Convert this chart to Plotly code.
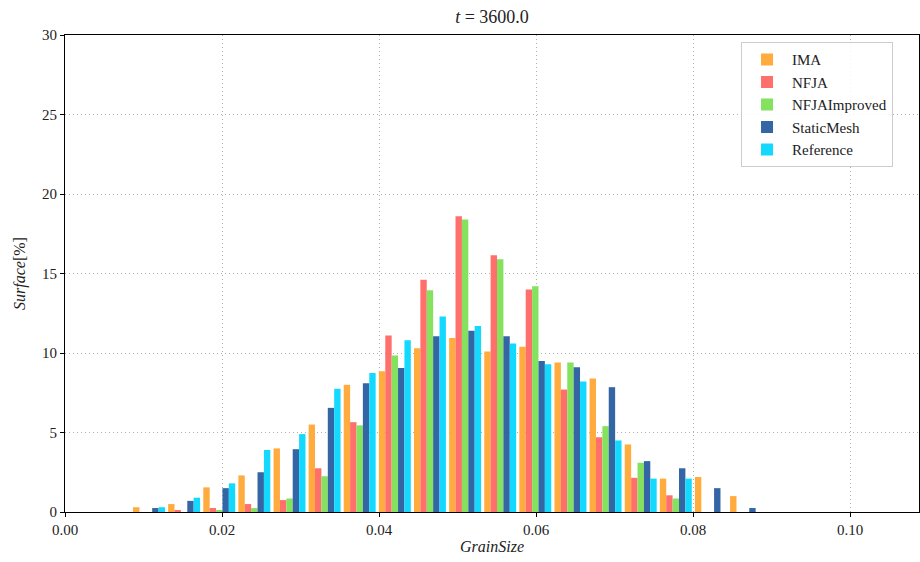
import plotly.graph_objects as go

# Bin centres (GrainSize) and surface percentages per method
bin_start = 0.0107
bin_step = 0.004474
n_bins = 18
grain_size = [round(bin_start + i * bin_step, 5) for i in range(n_bins)]

ima = [0.3, 0.5, 1.55, 2.3, 4.0, 5.5, 8.0, 8.85, 10.3, 10.95, 10.1, 10.4, 9.4, 8.4, 4.25, 2.1, 2.2, 1.0]
nfja = [0, 0.1, 0.25, 0.5, 0.75, 2.75, 5.65, 11.1, 14.6, 18.6, 16.15, 14.0, 7.7, 4.7, 2.15, 1.05, 0, 0]
nfja_improved = [0, 0, 0.1, 0.25, 0.85, 2.25, 5.45, 9.85, 13.95, 18.4, 15.9, 14.2, 9.4, 5.4, 3.1, 0.85, 0, 0]
static_mesh = [0.25, 0.7, 1.5, 2.5, 3.95, 6.55, 8.1, 9.05, 11.05, 11.4, 11.05, 9.5, 9.1, 7.85, 3.2, 2.75, 1.5, 0.25]
reference = [0.3, 0.9, 1.8, 3.9, 4.9, 7.75, 8.75, 10.8, 12.3, 11.7, 10.6, 9.3, 8.2, 4.5, 2.1, 2.1, 0, 0]

series_names = ["IMA", "NFJA", "NFJAImproved", "StaticMesh", "Reference"]
series_values = [ima, nfja, nfja_improved, static_mesh, reference]
colors = ["#FFAB3D", "#FF6F6B", "#84E25E", "#3465A4", "#14D9FF"]

x_ticks = [0.0, 0.02, 0.04, 0.06, 0.08, 0.10]
y_ticks = [0, 5, 10, 15, 20, 25, 30]

fig = go.Figure()
for name, vals, col in zip(series_names, series_values, colors):
    fig.add_trace(go.Bar(x=grain_size, y=vals, name=name, marker=dict(color=col, line=dict(width=0))))

font_family = "Liberation Serif, DejaVu Serif, serif"
axis_common = dict(
    showline=True, linecolor="black", linewidth=1.2, mirror=True,
    ticks="outside", ticklen=4, tickcolor="black",
    showgrid=True, gridcolor="#b0b0b0", griddash="1px,3px", gridwidth=1.2,
    zeroline=False, automargin=False,
    tickfont=dict(size=15, color="#222", family=font_family),
)

fig.update_layout(
    width=920, height=562,
    margin=dict(l=65, r=1, t=35, b=50),
    paper_bgcolor="white", plot_bgcolor="white",
    barmode="group", bargap=0.09, bargroupgap=0,
    font=dict(family=font_family, size=15, color="#222"),
    title=dict(text="<i>t</i> = 3600.0", x=0.5, xref="paper", xanchor="center",
               y=1 - 17 / 562, yanchor="middle", font=dict(size=18, family=font_family)),
    xaxis=dict(range=[0, 0.10879], tickvals=x_ticks, tickformat=".2f",
               title=dict(text="<i>GrainSize</i>", font=dict(size=16), standoff=2), **axis_common),
    yaxis=dict(range=[0, 30], tickvals=y_ticks,
               title=dict(text="<i>Surface</i>[%]", font=dict(size=16), standoff=12), **axis_common),
    legend=dict(x=0.7916, y=0.985, xanchor="left", yanchor="top",
                bgcolor="rgba(255,255,255,0.85)", bordercolor="#cccccc", borderwidth=1,
                font=dict(size=15, family=font_family), tracegroupgap=5, itemwidth=40,
                entrywidth=148),
    showlegend=True,
)

fig.write_html("out.html", post_script="document.body.style.margin='0';",
               config={"displayModeBar": False})
